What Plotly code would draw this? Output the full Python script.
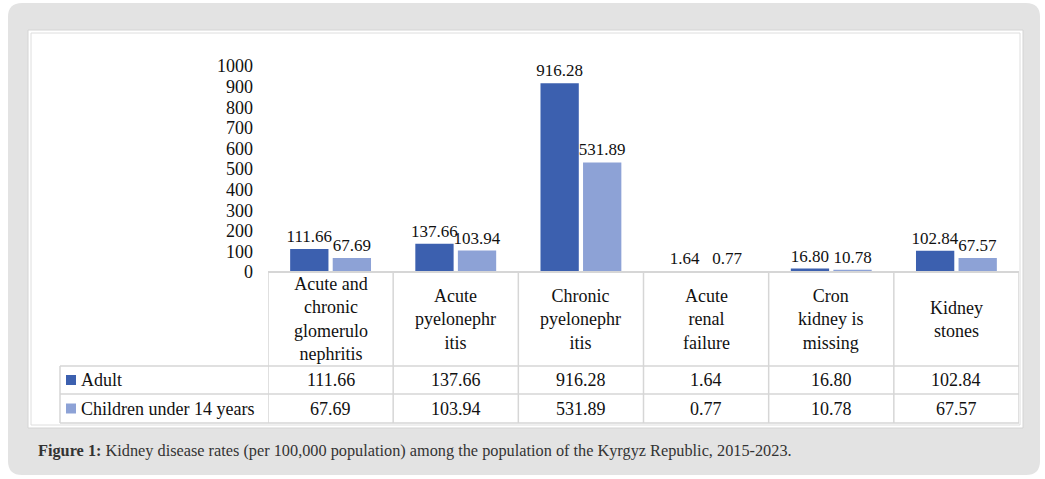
import plotly.graph_objects as go

categories = ["Acute and chronic glomerulonephritis", "Acute pyelonephritis",
              "Chronic pyelonephritis", "Acute renal failure",
              "Cron kidney is missing", "Kidney stones"]
header_labels = ["Acute and<br>chronic<br>glomerulo<br>nephritis",
                 "Acute<br>pyelonephr<br>itis",
                 "Chronic<br>pyelonephr<br>itis",
                 "Acute<br>renal<br>failure",
                 "Cron<br>kidney is<br>missing",
                 "Kidney<br>stones"]
series_names = ["Adult", "Children under 14 years"]
adult = [111.66, 137.66, 916.28, 1.64, 16.80, 102.84]
children = [67.69, 103.94, 531.89, 0.77, 10.78, 67.57]
y_ticks = [0, 100, 200, 300, 400, 500, 600, 700, 800, 900, 1000]
caption_bold = "Figure 1:"
caption_text = " Kidney disease rates (per 100,000 population) among the population of the Kyrgyz Republic, 2015-2023."

W, H = 1045, 479
ML, MR, MT, MB = 268, 26, 66, 207
PW = W - ML - MR
PH = H - MT - MB

def px(x):
    return (x - ML) / PW

def py(y):
    return (H - MB - y) / PH

colors = ["#3C60AF", "#8DA2D6"]
FONT = "Liberation Serif"
FS = 18
TXT = "#111111"

fig = go.Figure()
for name, vals, col in zip(series_names, [adult, children], colors):
    fig.add_trace(go.Bar(
        x=categories, y=vals, name=name,
        marker=dict(color=col, line=dict(width=0)),
        text=[f"{v:.2f}" for v in vals], textposition="outside",
        constraintext="none", cliponaxis=False,
        textfont=dict(family=FONT, size=17, color=TXT),
    ))

shapes = []
# outer grey rounded panel
x0, y0, x1, y1 = 8, 3, 1040, 475
r = 14
path = (f"M {px(x0+r)},{py(y0)} L {px(x1-r)},{py(y0)} Q {px(x1)},{py(y0)} {px(x1)},{py(y0+r)} "
        f"L {px(x1)},{py(y1-r)} Q {px(x1)},{py(y1)} {px(x1-r)},{py(y1)} "
        f"L {px(x0+r)},{py(y1)} Q {px(x0)},{py(y1)} {px(x0)},{py(y1-r)} "
        f"L {px(x0)},{py(y0+r)} Q {px(x0)},{py(y0)} {px(x0+r)},{py(y0)} Z")
shapes.append(dict(type="path", xref="paper", yref="paper", path=path,
                   fillcolor="#e3e3e3", line=dict(width=0), layer="below"))
# white inner box with double thin border
shapes.append(dict(type="rect", xref="paper", yref="paper",
                   x0=px(28), x1=px(1023), y0=py(30), y1=py(428),
                   fillcolor="white", line=dict(color="#d4d4d4", width=1), layer="below"))
shapes.append(dict(type="rect", xref="paper", yref="paper",
                   x0=px(31), x1=px(1020), y0=py(33), y1=py(425),
                   fillcolor="rgba(0,0,0,0)", line=dict(color="#dedede", width=1), layer="below"))

LC = "#d6d6d6"
LW = 1.5
row_y = [272, 366, 394, 423]
leg_x = 60
# horizontal table lines
shapes.append(dict(type="line", xref="x", yref="paper", x0=-0.5, x1=len(categories) - 0.5,
                   y0=py(row_y[0]), y1=py(row_y[0]), line=dict(color=LC, width=2)))
for yy in row_y[1:]:
    shapes.append(dict(type="line", xref="paper", yref="paper", x0=px(leg_x), x1=1,
                       y0=py(yy), y1=py(yy), line=dict(color=LC, width=LW)))
# vertical table lines
for i in range(len(categories) + 1):
    shapes.append(dict(type="line", xref="x", yref="paper", x0=i - 0.5, x1=i - 0.5,
                       y0=py(row_y[0]), y1=py(row_y[3]), line=dict(color=LC, width=LW)))
shapes.append(dict(type="line", xref="paper", yref="paper", x0=px(leg_x), x1=px(leg_x),
                   y0=py(row_y[1]), y1=py(row_y[3]), line=dict(color=LC, width=LW)))
# legend keys
for k, col in enumerate(colors):
    cy = (row_y[1 + k] + row_y[2 + k]) / 2
    shapes.append(dict(type="rect", xref="paper", yref="paper",
                       x0=px(66), x1=px(76), y0=py(cy - 5), y1=py(cy + 5),
                       fillcolor=col, line=dict(width=0)))

annotations = []
for cat, lab in zip(categories, header_labels):
    annotations.append(dict(x=cat, xref="x", yref="paper", y=py((row_y[0] + row_y[1]) / 2),
                            text=lab, showarrow=False, yanchor="middle", xanchor="center",
                            font=dict(family=FONT, size=FS, color=TXT)))
for k, (name, vals) in enumerate(zip(series_names, [adult, children])):
    cy = (row_y[1 + k] + row_y[2 + k]) / 2
    annotations.append(dict(x=px(79), xref="paper", yref="paper", y=py(cy), text=name,
                            showarrow=False, xanchor="left", yanchor="middle",
                            font=dict(family=FONT, size=FS, color=TXT)))
    for cat, v in zip(categories, vals):
        annotations.append(dict(x=cat, xref="x", yref="paper", y=py(cy), text=f"{v:.2f}",
                                showarrow=False, xanchor="center", yanchor="middle",
                                font=dict(family=FONT, size=FS, color=TXT)))
annotations.append(dict(x=px(36), xref="paper", yref="paper", y=py(450),
                        text=f"<b>{caption_bold}</b>{caption_text}", showarrow=False,
                        xanchor="left", yanchor="middle",
                        font=dict(family=FONT, size=16.3, color="#333333")))

fig.update_layout(
    width=W, height=H,
    margin=dict(l=ML, r=MR, t=MT, b=MB, pad=0),
    paper_bgcolor="white", plot_bgcolor="rgba(0,0,0,0)",
    barmode="group", bargap=0.32, bargroupgap=0.1,
    showlegend=False,
    xaxis=dict(type="category", range=[-0.5, len(categories) - 0.5], showticklabels=False,
               showgrid=False, zeroline=False, showline=False, ticks=""),
    yaxis=dict(range=[0, 1000], tickvals=y_ticks, showgrid=False, zeroline=False,
               showline=False, ticks="", ticklabelstandoff=14,
               tickfont=dict(family=FONT, size=FS, color=TXT)),
    shapes=shapes, annotations=annotations,
)

fig.write_html("out.html", config={"displayModeBar": False},
               post_script="document.body.style.margin='0px';")
